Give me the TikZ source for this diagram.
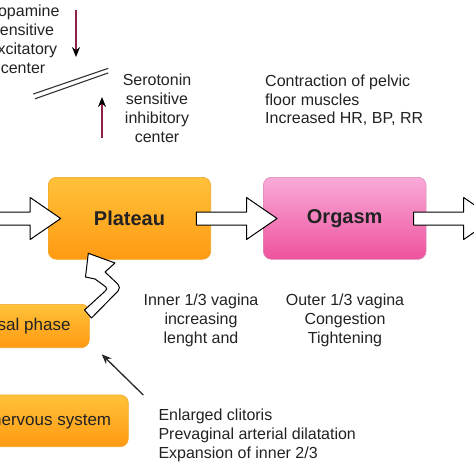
\documentclass[tikz,border=0pt]{standalone}
\usepackage{fontspec}
\setmainfont{Liberation Sans}
\usetikzlibrary{arrows.meta,calc}
\definecolor{txt}{HTML}{222222}
\definecolor{orTop}{HTML}{FFC23A}
\definecolor{orBot}{HTML}{FF9A12}
\definecolor{orLine}{HTML}{F2A52A}
\definecolor{pkTop}{HTML}{F9AAD8}
\definecolor{pkBot}{HTML}{EE529E}
\definecolor{pkLine}{HTML}{D98AB6}
\definecolor{shaft}{HTML}{8C2545}
\newcommand\blockarr[2]{%
  \draw[hollow] ($(#1)+(0,-6.5)$) -- ($(#2)+(-30.5,-6.5)$) -- ($(#2)+(-30.5,-21)$)
    -- (#2) -- ($(#2)+(-30.5,21)$) -- ($(#2)+(-30.5,6.5)$) -- ($(#1)+(0,6.5)$) -- cycle;}
\begin{document}
\begin{tikzpicture}[x=1pt,y=-1pt,
  obox/.style={rounded corners=8pt, top color=orTop, bottom color=orBot, draw=orLine, line width=0.6pt, inner sep=0pt},
  pbox/.style={rounded corners=8pt, top color=pkTop, bottom color=pkBot, draw=pkLine, line width=0.6pt, inner sep=0pt},
  stagetxt/.style={font=\fontsize{20}{24}\selectfont\bfseries, text=txt},
  boxtxt/.style={font=\fontsize{17}{20}\selectfont, text=txt},
  note/.style={font=\fontsize{16}{19}\selectfont, text=txt, inner sep=0pt, align=center},
  hollow/.style={draw=black, fill=white, line width=1pt, line join=round},
  thinarr/.style={line width=1.3pt, draw=shaft, -{Stealth[length=10pt,width=8pt,black]}},
  blackarr/.style={line width=1.3pt, draw=black!85, -{Stealth[length=10pt,width=8pt]}}
]
\useasboundingbox (0,0) rectangle (474,474);
\clip (0,0) rectangle (474,474);

% stage boxes
\node[obox, minimum width=162.4pt, minimum height=82pt] (plateau) at (129.5,218.3) {};
\node[stagetxt] (plateaut) at (plateau.center) {Plateau};
\node[pbox, minimum width=162.7pt, minimum height=82pt] (orgasm) at (344.7,218.3) {};
\node[stagetxt] (orgasmt) at (orgasm.center) {Orgasm};

\node[obox, minimum width=146.3pt, minimum height=43.4pt] (arousal) at (16.15,326) {};
\node[boxtxt] (arousalt) at (arousal.center) {Arousal phase};
\node[obox, minimum width=212.8pt, minimum height=51.7pt] (cns) at (21.9,420.85) {};
\node[boxtxt] (cnst) at (cns.center) {Central nervous system};

% hollow block arrows
\coordinate (a1s) at (-5,218.5);
\coordinate (a1t) at ($(plateau.west)+(12.7,0.2)$);
\coordinate (a2s) at ($(plateau.east)+(-14.7,0.2)$);
\coordinate (a2t) at ($(orgasm.west)+(14,0.2)$);
\coordinate (a3s) at ($(orgasm.east)+(-12.7,0.2)$);
\coordinate (a3t) at ($(orgasm.east)+(67.8,0.2)$);
\blockarr{a1s}{a1t}
\blockarr{a2s}{a2t}
\blockarr{a3s}{a3t}

% curved hollow arrow from arousal to plateau
\draw[hollow] (88.3,253.3) -- (115,263) -- (105,272)
  [rounded corners=5pt] -- (121.5,287.5) [sharp corners]
  -- (91.5,318) -- (84.5,310)
  [rounded corners=3pt] -- (108,288.5) [sharp corners]
  -- (95,279) -- (85.5,277) -- cycle;

% CNS -> arousal thin arrow
\coordinate (cnsA) at (143.3,395);
\coordinate (arA) at (101.7,354.3);
\draw[blackarr] (cnsA) -- (arA);

% top arrows
\coordinate (dTop) at (76,10);
\coordinate (dBot) at (76,57);
\draw[thinarr] (dTop) -- (dBot);
\coordinate (uBot) at (102,138);
\coordinate (uTop) at (102,97);
\draw[thinarr] (uBot) -- (uTop);

% double line
\coordinate (l1a) at (33.3,94);
\coordinate (l1b) at (108.3,68.3);
\coordinate (l2a) at (35,98.8);
\coordinate (l2b) at (108.3,72.9);
\draw[line width=1.1pt, black!80] (l1a) -- (l1b);
\draw[line width=1.1pt, black!80] (l2a) -- (l2b);

% texts
\node[note, anchor=north] (dopa) at (23,5.2) {Dopamine\\sensitive\\excitatory\\center};
\node[note, anchor=north] (sero) at (157,73.5) {Serotonin\\sensitive\\inhibitory\\center};
\node[note, anchor=north west, align=left, font=\fontsize{16}{18.4}\selectfont] (contr) at (265,75)
  {Contraction of pelvic\\floor muscles\\Increased HR, BP, RR};
\node[note, anchor=north] (inner) at (201,293.5) {Inner 1/3 vagina\\increasing\\lenght and};
\node[note, anchor=north] (outer) at (345,293.5) {Outer 1/3 vagina\\Congestion\\Tightening};
\node[note, anchor=north west, align=left, font=\fontsize{16}{19.2}\selectfont] (enl) at (158.3,408.8)
  {Enlarged clitoris\\Prevaginal arterial dilatation\\Expansion of inner 2/3};
\end{tikzpicture}
\end{document}
